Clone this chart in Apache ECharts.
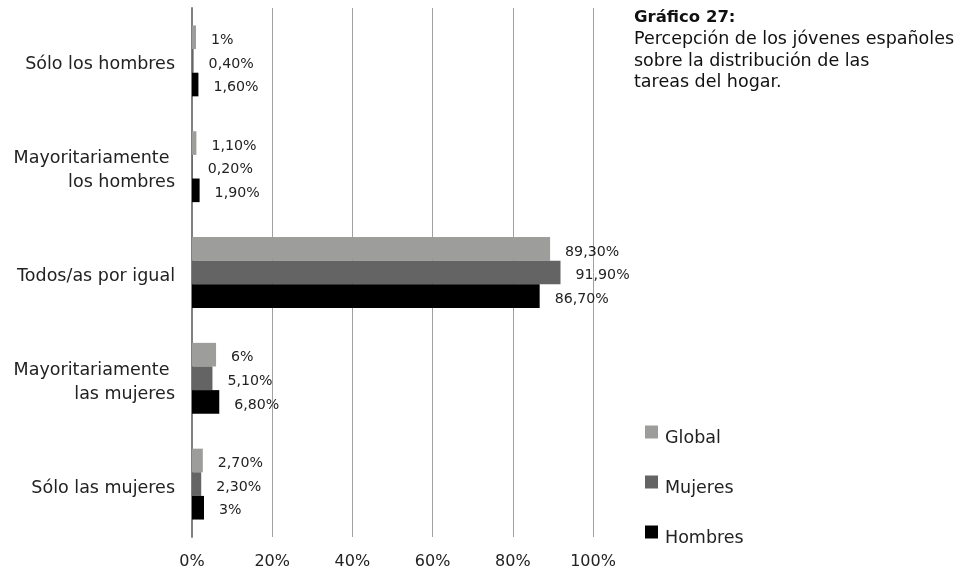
<!DOCTYPE html>
<html><head><meta charset="utf-8">
<script src="https://cdn.jsdelivr.net/npm/echarts@6/dist/echarts.min.js"></script>
<style>html,body{margin:0;padding:0;background:#fff}#c{width:966px;height:574px}</style>
</head><body><div id="c"></div>
<script>
var categories = ['Sólo los hombres', 'Mayoritariamente \nlos hombres', 'Todos/as por igual', 'Mayoritariamente \nlas mujeres', 'Sólo las mujeres'];
var globalVals = [1, 1.1, 89.3, 6, 2.7];
var mujeresVals = [0.4, 0.2, 91.9, 5.1, 2.3];
var hombresVals = [1.6, 1.9, 86.7, 6.8, 3];
var xTicks = [0, 20, 40, 60, 80, 100];

var FONT = '"DejaVu Sans", sans-serif';
function fmt(v) {
  return (Number.isInteger(v) ? String(v) : v.toFixed(2).replace('.', ',')) + '%';
}
function mk(name, data, color) {
  return {
    name: name, type: 'bar', data: data, barGap: '0%', barCategoryGap: '33%',
    itemStyle: { color: color },
    label: { show: true, position: 'right', distance: 15, offset: [0, 3], color: '#222', fontSize: 14.2, fontFamily: FONT,
      formatter: function (p) { return fmt(p.value); } }
  };
}
var chart = echarts.init(document.getElementById('c'));
chart.setOption({
  animation: false,
  textStyle: { fontFamily: FONT },
  title: {
    text: 'Gráfico 27:',
    subtext: 'Percepción de los jóvenes españoles\nsobre la distribución de las\ntareas del hogar.',
    left: 629, top: 4, itemGap: 3,
    textStyle: { fontSize: 16.5, fontWeight: 'bold', color: '#111', fontFamily: FONT },
    subtextStyle: { fontSize: 17.5, color: '#111', lineHeight: 21.5, fontFamily: FONT }
  },
  legend: {
    orient: 'vertical', left: 640, top: 420.5, itemGap: 28.5, itemWidth: 13, itemHeight: 13,
    icon: 'rect',
    formatter: '{a|{name}}',
    textStyle: { fontSize: 17.5, color: '#222', fontFamily: FONT,
      rich: { a: { fontSize: 17.5, color: '#222', fontFamily: FONT, padding: [12, 0, 0, 2] } } },
    data: ['Global', 'Mujeres', 'Hombres']
  },
  grid: { left: 192, right: 373, top: 8, bottom: 37, containLabel: false },
  xAxis: {
    type: 'value', min: xTicks[0], max: xTicks[xTicks.length - 1], interval: 20,
    axisLine: { show: false }, axisTick: { show: false },
    axisLabel: { formatter: '{value}%', fontSize: 16, color: '#222', margin: 17, fontFamily: FONT },
    splitLine: { lineStyle: { color: '#a0a0a0', width: 1 } }
  },
  yAxis: {
    type: 'category', data: categories, inverse: true,
    axisLine: { lineStyle: { color: '#808080', width: 2 } }, axisTick: { show: false },
    axisLabel: {
      fontSize: 17.5, color: '#222', margin: 17, align: 'right', fontFamily: FONT,
      formatter: function (v) {
        return '{sp| }\n' + v.split('\n').map(function (s) { return '{a|' + s + '}'; }).join('\n');
      },
      rich: {
        sp: { fontSize: 1, lineHeight: 8 },
        a: { fontSize: 17.5, color: '#222', lineHeight: 24, fontFamily: FONT, align: 'right' }
      }
    }
  },
  series: [
    mk('Global', globalVals, '#9d9d9c'),
    mk('Mujeres', mujeresVals, '#646464'),
    mk('Hombres', hombresVals, '#000000')
  ]
});
</script></body></html>
